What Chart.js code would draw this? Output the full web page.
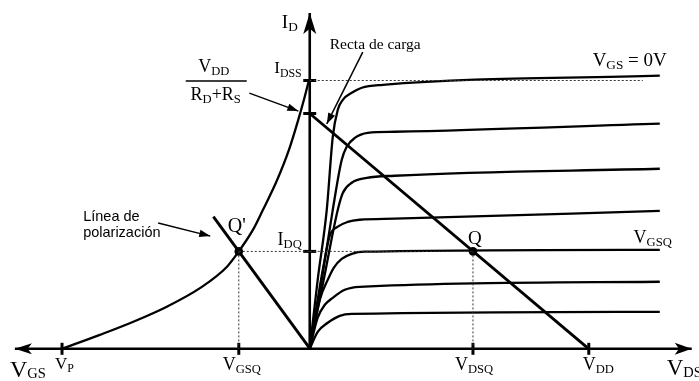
<!DOCTYPE html>
<html>
<head>
<meta charset="utf-8">
<title>JFET - recta de carga</title>
<script src="https://cdn.jsdelivr.net/npm/chart.js@4.4.0/dist/chart.umd.min.js"></script>
<style>
  html, body { margin: 0; padding: 0; background: #fff; }
  #wrap { width: 699px; height: 381px; position: relative; }
</style>
</head>
<body>
<div id="wrap"><canvas id="jfetChart"></canvas></div>
<script>
// Drain characteristics: V_DS in volts, I_D in mA, one curve per V_GS step (top = 0 V)
const drainVds0 = [0, 0.57, 1.22, 1.65, 2.01, 2.37, 3.01, 3.73, 5.23, 25.09];
const drainId0  = [0, 2.57, 5.18, 7.90, 8.91, 9.28, 9.54, 9.73, 9.84, 10.18];
const drainVds1 = [0, 0.86, 1.65, 2.29, 2.65, 3.23, 4.16, 6.09, 25.09];
const drainId1  = [0, 2.57, 5.18, 7.04, 7.53, 7.86, 8.05, 8.09, 8.39];
const drainVds2 = [0, 1.00, 2.01, 2.37, 3.01, 4.09, 6.09, 25.09];
const drainId2  = [0, 2.57, 5.18, 5.81, 6.19, 6.37, 6.45, 6.71];
const drainVds3 = [0, 0.57, 1.00, 1.43, 2.01, 2.72, 3.58, 6.09, 25.09];
const drainId3  = [0, 1.83, 3.13, 4.21, 4.55, 4.73, 4.81, 4.85, 5.14];
const drainVds4 = [0, 0.72, 1.29, 1.72, 2.29, 3.01, 3.94, 25.09];
const drainId4  = [0, 1.83, 2.57, 3.02, 3.35, 3.54, 3.62, 3.69];
const drainVds5 = [0, 0.57, 1.08, 1.65, 2.51, 3.58, 25.09];
const drainId5  = [0, 1.16, 1.64, 1.90, 2.20, 2.31, 2.50];
const drainVds6 = [0, 0.57, 1.29, 2.15, 3.01, 25.09];
const drainId6  = [0, 0.63, 0.97, 1.23, 1.30, 1.38];

// Transfer curve I_D(V_GS)
const transferVgs = [-4.00, -3.39, -2.85, -2.31, -1.77, -1.34, -1.15, -0.92, -0.76, -0.53, -0.34, -0.19, -0.10, -0.02];
const transferId  = [0, 0.52, 1.01, 1.57, 2.27, 3.06, 3.63, 4.44, 5.18, 6.30, 7.42, 8.54, 9.28, 10.0];

// Circuit values and operating point
const idss = 10;            // mA
const vp = -4;              // V
const vdd = 20;             // V
const loadIntercept = 8.77; // V_DD / (R_D + R_S), mA
const vdsQ = 11.7;
const idQ = 3.63;
const vgsQ = -1.15;
const biasVgs = [0, -1.56]; // self-bias line
const biasId  = [0, 4.93];

// Axis extents
const vdsAxisEnd = 27.38;
const vgsAxisEnd = -4.76;
const idAxisTop = 12.52;
const idssGuideEnd = 23.87;

const pts = (xs, ys) => xs.map((x, i) => ({ x: x, y: ys[i] }));

function trace(axis, xs, ys, extra) {
  return Object.assign({
    data: pts(xs, ys),
    xAxisID: axis,
    yAxisID: 'id',
    showLine: true,
    borderColor: '#000',
    borderWidth: 2.3,
    pointRadius: 0,
    fill: false,
    cubicInterpolationMode: 'monotone'
  }, extra || {});
}

const dotted = { borderWidth: 1, borderColor: '#333', borderDash: [2, 2], cubicInterpolationMode: 'default' };
const axisLine = { borderWidth: 2.6, cubicInterpolationMode: 'default' };

const datasets = [
  // guides
  trace('vds', [0, idssGuideEnd], [idss, idss], dotted),
  trace('vgs', [vgsQ, 0], [idQ, idQ], dotted),
  trace('vds', [0, vdsQ], [idQ, idQ], dotted),
  trace('vgs', [vgsQ, vgsQ], [idQ, 0], dotted),
  trace('vds', [vdsQ, vdsQ], [idQ, 0], dotted),
  // axes
  trace('vds', [0, vdsAxisEnd], [0, 0], axisLine),
  trace('vgs', [0, vgsAxisEnd], [0, 0], axisLine),
  trace('vds', [0, 0], [0, idAxisTop], axisLine),
  // drain curves
  trace('vds', drainVds0, drainId0),
  trace('vds', drainVds1, drainId1),
  trace('vds', drainVds2, drainId2),
  trace('vds', drainVds3, drainId3),
  trace('vds', drainVds4, drainId4),
  trace('vds', drainVds5, drainId5),
  trace('vds', drainVds6, drainId6),
  // transfer curve
  trace('vgs', transferVgs, transferId),
  // load line and bias line
  trace('vds', [0, vdd], [loadIntercept, 0], { borderWidth: 2.9, cubicInterpolationMode: 'default' }),
  trace('vgs', biasVgs, biasId, { borderWidth: 2.9, cubicInterpolationMode: 'default' }),
  // axis ticks
  { data: pts([vp, vgsQ], [0, 0]), xAxisID: 'vgs', yAxisID: 'id', showLine: false,
    pointStyle: 'line', pointRadius: 6, rotation: 90, borderColor: '#000', borderWidth: 3 },
  { data: pts([vdsQ, vdd], [0, 0]), xAxisID: 'vds', yAxisID: 'id', showLine: false,
    pointStyle: 'line', pointRadius: 6, rotation: 90, borderColor: '#000', borderWidth: 3 },
  { data: pts([0, 0, 0], [idss, loadIntercept, idQ]), xAxisID: 'vds', yAxisID: 'id', showLine: false,
    pointStyle: 'line', pointRadius: 6.5, borderColor: '#000', borderWidth: 3 },
  // Q and Q'
  { data: pts([vdsQ], [idQ]), xAxisID: 'vds', yAxisID: 'id', showLine: false,
    pointStyle: 'circle', pointRadius: 4.3, backgroundColor: '#000', borderColor: '#000', borderWidth: 0 },
  { data: pts([vgsQ], [idQ]), xAxisID: 'vgs', yAxisID: 'id', showLine: false,
    pointStyle: 'circle', pointRadius: 4.3, backgroundColor: '#000', borderColor: '#000', borderWidth: 0 }
];

const SERIF = '"Liberation Serif", "Times New Roman", serif';
const SANS = '"Liberation Sans", Arial, sans-serif';

// segments starting with "_" are drawn as subscripts
function richText(ctx, x, y, segs, size, align, subSize, drop) {
  subSize = subSize || size * 0.7;
  drop = drop === undefined ? size * 0.18 : drop;
  let w = 0;
  const widths = segs.map(s => {
    const sub = s[0] === '_';
    ctx.font = (sub ? subSize : size) + 'px ' + SERIF;
    const m = ctx.measureText(sub ? s.slice(1) : s).width;
    w += m;
    return m;
  });
  let left = x;
  if (align === 'center') left = x - w / 2;
  if (align === 'right') left = x - w;
  ctx.textAlign = 'left';
  ctx.textBaseline = 'alphabetic';
  segs.forEach((s, i) => {
    const sub = s[0] === '_';
    ctx.font = (sub ? subSize : size) + 'px ' + SERIF;
    ctx.fillText(sub ? s.slice(1) : s, left, sub ? y + drop : y);
    left += widths[i];
  });
}

function arrowHead(ctx, from, tip, len, half, swept) {
  const a = Math.atan2(tip.y - from.y, tip.x - from.x);
  const c = Math.cos(a), s = Math.sin(a);
  const bx = tip.x - c * len, by = tip.y - s * len;
  ctx.beginPath();
  ctx.moveTo(tip.x, tip.y);
  ctx.lineTo(bx - s * half, by + c * half);
  if (swept) ctx.lineTo(tip.x - c * len * 0.75, tip.y - s * len * 0.75);
  ctx.lineTo(bx + s * half, by - c * half);
  ctx.closePath();
  ctx.fill();
}

const diagramLayer = {
  id: 'diagramLayer',
  afterDatasetsDraw(chart) {
    const ctx = chart.ctx;
    const sc = chart.scales;
    const at = (axis, x, y) => ({ x: sc[axis].getPixelForValue(x), y: sc.id.getPixelForValue(y) });
    ctx.save();
    ctx.fillStyle = '#000';
    ctx.strokeStyle = '#000';

    // axis arrowheads
    arrowHead(ctx, at('vds', 0, 0), at('vds', 0, idAxisTop), 21, 6.5, true);
    arrowHead(ctx, at('vds', 0, 0), at('vds', vdsAxisEnd, 0), 17, 6, true);
    arrowHead(ctx, at('vgs', 0, 0), at('vgs', vgsAxisEnd, 0), 17, 5.5, true);

    // annotation arrows
    const notes = [
      [at('vds', 3.80, 11.06), at('vds', 1.22, 8.38)],
      [at('vgs', -0.98, 9.53), at('vgs', -0.19, 8.86)],
      [at('vgs', -2.45, 4.69), at('vgs', -1.61, 4.20)]
    ];
    ctx.lineWidth = 1.5;
    notes.forEach(([a, b]) => {
      ctx.beginPath();
      ctx.moveTo(a.x, a.y);
      ctx.lineTo(b.x, b.y);
      ctx.stroke();
      arrowHead(ctx, a, b, 11, 3.8, false);
    });

    const place = (axis, x, y, dx, dy) => { const p = at(axis, x, y); return [p.x + dx, p.y + dy]; };
    const label = (axis, x, y, dx, dy, segs, size, align, subSize, drop) => {
      const [px, py] = place(axis, x, y, dx, dy);
      richText(ctx, px, py, segs, size, align, subSize, drop);
    };

    label('vds', 0, idAxisTop, -12, 15, ['I', '_D'], 19, 'right');
    label('vds', 0, idss, -8, -7, ['I', '_DSS'], 17, 'right');
    label('vds', 0, idQ, -8, -6.5, ['I', '_DQ'], 18, 'right');
    label('vgs', vgsQ, idQ, -2, -19, ["Q'"], 20, 'center');
    label('vds', vdsQ, idQ, 2, -7, ['Q'], 19, 'center');
    label('vds', drainVds4[drainVds4.length - 1], drainId4[drainId4.length - 1], 12, -7, ['V', '_GSQ'], 18, 'right');
    label('vds', drainVds0[drainVds0.length - 1], drainId0[drainId0.length - 1], 7, -10, ['V', '_GS', ' = 0V'], 19, 'right');

    label('vgs', vp, 0, -7, 20, ['V', '_P'], 17, 'left');
    label('vgs', vgsQ, 0, 3, 21, ['V', '_GSQ'], 18, 'center');
    label('vds', vdsQ, 0, 1, 21, ['V', '_DSQ'], 18, 'center');
    label('vds', vdd, 0, -6, 21, ['V', '_DD'], 18, 'left');
    label('vgs', vgsAxisEnd, 0, -5, 28, ['V', '_GS'], 24, 'left', 14.5, 1.5);
    label('vds', vdsAxisEnd, 0, -25, 26, ['V', '_DS'], 23, 'left', 14.5, 2.5);

    // V_DD / (R_D + R_S) fraction next to the load-line intercept
    label('vds', 0, loadIntercept, -96, -41.5, ['V', '_DD'], 18, 'center');
    label('vds', 0, loadIntercept, -94, -13.5, ['R', '_D', '+R', '_S'], 18, 'center');
    const [bx0, by] = place('vds', 0, loadIntercept, -124, -32.5);
    const [bx1] = place('vds', 0, loadIntercept, -63, 0);
    ctx.lineWidth = 1.4;
    ctx.beginPath();
    ctx.moveTo(bx0, by);
    ctx.lineTo(bx1, by);
    ctx.stroke();

    // callout captions
    ctx.textAlign = 'left';
    ctx.font = '15.5px ' + SERIF;
    const [rx, ry] = place('vds', 3.80, 11.06, -33, -3);
    ctx.fillText('Recta de carga', rx, ry);
    ctx.font = '14.5px ' + SANS;
    const [lx, ly] = place('vgs', -2.45, 4.69, -75, -2);
    ctx.fillText('Línea de', lx, ly);
    ctx.fillText('polarización', lx, ly + 16);

    ctx.restore();
  }
};

new Chart(document.getElementById('jfetChart'), {
  type: 'scatter',
  data: { datasets: datasets },
  options: {
    responsive: true,
    maintainAspectRatio: false,
    animation: false,
    events: [],
    layout: { padding: 0, autoPadding: false },
    plugins: { legend: { display: false }, tooltip: { enabled: false } },
    scales: {
      vds: { type: 'linear', axis: 'x', position: 'bottom', min: -22.2, max: 27.9, display: false },
      vgs: { type: 'linear', axis: 'x', position: 'bottom', min: -5, max: 6.27, display: false },
      id:  { type: 'linear', axis: 'y', position: 'left', min: -1.2, max: 13, display: false }
    }
  },
  plugins: [diagramLayer]
});
</script>
</body>
</html>
